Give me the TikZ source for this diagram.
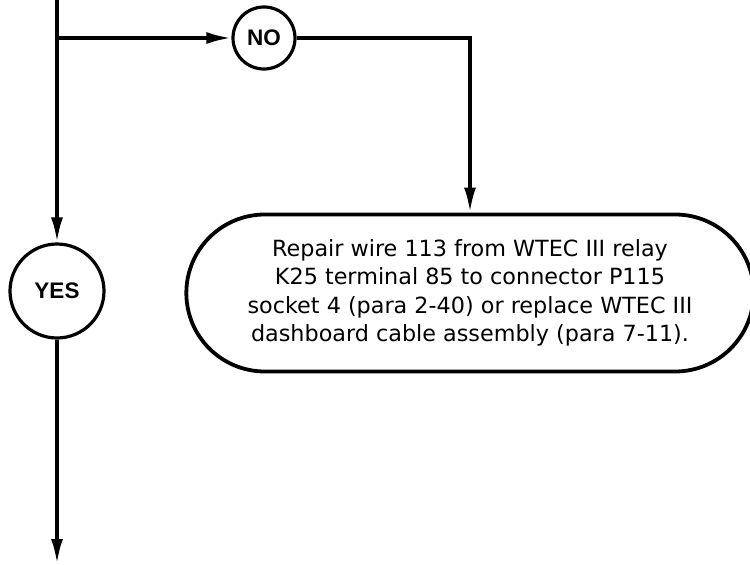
\documentclass[tikz,border=0pt]{standalone}
\usepackage{fontspec}
\setmainfont{DejaVu Sans}
\newfontfamily\answerfont{Liberation Sans}
\usetikzlibrary{arrows.meta, positioning, shapes.misc}

\begin{document}
\begin{tikzpicture}[x=1pt, y=-1pt,
  arrow/.style={-{Latex[length=25pt, width=12pt]}, line width=3.5pt},
  answer/.style={draw, circle, line width=3.2pt, inner sep=0pt, font=\answerfont\bfseries\fontsize{22.5}{24}\selectfont},
  action/.style={draw, rounded rectangle, line width=3.8pt, minimum width=574pt, minimum height=157pt, align=center, font=\fontsize{22.3}{28.5}\selectfont}
]
  \useasboundingbox (0,0) rectangle (750,565);

  % Decision branch
  \coordinate (top) at (57,-5);
  \coordinate (split) at (57,38);
  \node (no) [answer, minimum size=62pt] at (264,38) {NO};
  \node (yes) [answer, minimum size=94pt] at (57,291) {YES};
  \node (repair) [action] at (470,293) {Repair wire 113 from WTEC III relay\\K25 terminal 85 to connector P115\\socket 4 (para 2-40) or replace WTEC III\\dashboard cable assembly (para 7-11).};
  \coordinate (next) at (57,564);

  % Connectors
  \draw[arrow] (top) -- (yes);
  \draw[arrow] (split) -- (no);
  \draw[arrow] (no.east) -| (repair.north);
  \draw[arrow] (yes) -- (next);

\end{tikzpicture}
\end{document}
